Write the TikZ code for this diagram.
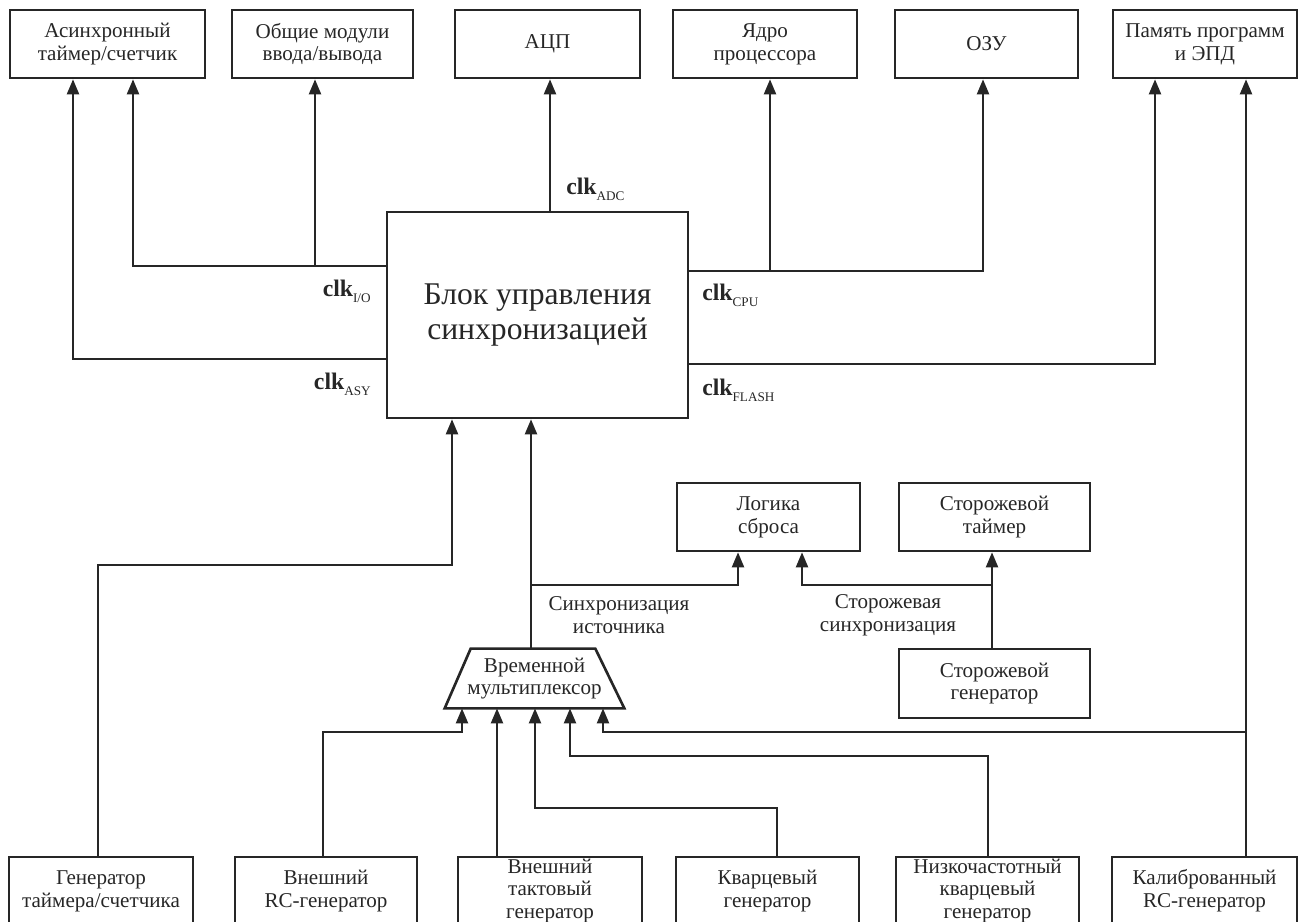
\documentclass[tikz,border=0pt]{standalone}
\usepackage{fontspec}
\setmainfont{Liberation Serif}
\usepackage{tikz}
\usetikzlibrary{arrows.meta}
\newcommand{\clksig}[1]{\textbf{clk}\raisebox{-0.55ex}{\fontsize{7.5}{8}\selectfont #1}}

\begin{document}
\begin{tikzpicture}[x=0.02cm, y=-0.02cm,
    every node/.style={font=\fontsize{12}{13}\selectfont, text=black!85},
    blk/.style={draw=black!85, line width=1.5pt, align=center, inner sep=0pt, minimum height=1.36cm},
    arr/.style={draw=black!85, line width=1.25pt, -{Triangle[length=0.3cm,width=0.24cm]}},
    clklbl/.style={inner sep=0pt, font=\fontsize{13.5}{14}\selectfont},
    lbl/.style={align=center, inner sep=0pt}]
  \useasboundingbox (0,0) rectangle (1300,921);
  \clip (0,0) rectangle (1300,921);
  % consumers
  \node[blk, minimum width=3.9cm]  (async) at (107.5,44) {Асинхронный\\таймер/счетчик};
  \node[blk, minimum width=3.62cm] (io)    at (322.5,44) {Общие модули\\ввода/вывода};
  \node[blk, minimum width=3.7cm]  (adc)   at (547.5,44) {АЦП};
  \node[blk, minimum width=3.68cm] (cpu)   at (765,44)   {Ядро\\процессора};
  \node[blk, minimum width=3.66cm] (ram)   at (986.5,44) {ОЗУ};
  \node[blk, minimum width=3.68cm] (flash) at (1205,44)  {Память программ\\и ЭПД};
  % control unit
  \node[blk, minimum width=6.02cm, minimum height=4.12cm,
        font=\fontsize{18}{20}\selectfont] (ctrl) at (537.5,315) {Блок управления\\синхронизацией};
  \node[blk, minimum width=3.66cm] (reset) at (768.5,517) {Логика\\сброса};
  \node[blk, minimum width=3.82cm] (wdt)   at (994.5,517) {Сторожевой\\таймер};
  \node[blk, minimum width=3.82cm, minimum height=1.38cm] (wdgen) at (994.5,683.5) {Сторожевой\\генератор};
  % multiplexer
  \node[lbl, minimum width=3.58cm, minimum height=1.18cm] (mux) at (534.5,678.5) {Временной\\мультиплексор};
  \draw[draw=black!85, line width=1.5pt] (mux.south west) -- (mux.south east)
    -- ([xshift=-0.58cm]mux.north east) -- ([xshift=0.52cm]mux.north west) -- cycle;
  % sources
  \node[blk, minimum width=3.68cm] (tgen)   at (101,891)    {Генератор\\таймера/счетчика};
  \node[blk, minimum width=3.64cm] (extrc)  at (326,891)    {Внешний\\RC-генератор};
  \node[blk, minimum width=3.68cm] (extclk) at (550,891)    {Внешний\\тактовый\\генератор};
  \node[blk, minimum width=3.66cm] (xtal)   at (767.5,891)  {Кварцевый\\генератор};
  \node[blk, minimum width=3.66cm] (lfx)    at (987.5,891)  {Низкочастотный\\кварцевый\\генератор};
  \node[blk, minimum width=3.7cm]  (calib)  at (1204.5,891) {Калиброванный\\RC-генератор};

  % clock outputs
  \coordinate (adcA) at (550,0);
  \coordinate (ioA) at (133,266);
  \coordinate (ioB) at (315,266);
  \coordinate (asyA) at (73,359);
  \coordinate (cpuA) at (770,271);
  \coordinate (ramA) at (983,271);
  \coordinate (flA) at (1155,364);
  \coordinate (calA) at (1246,732);
  \draw[arr] (ctrl.north -| adcA) -- (adc.south -| adcA);
  \draw[arr] (ctrl.west |- ioB) -| (async.south -| ioA);
  \draw[arr] (ioB) -- (io.south -| ioB);
  \draw[arr] (ctrl.west |- asyA) -| (async.south -| asyA);
  \draw[arr] (ctrl.east |- ramA) -| (ram.south -| ramA);
  \draw[arr] (cpuA) -- (cpu.south -| cpuA);
  \draw[arr] (ctrl.east |- flA) -| (flash.south -| flA);
  \draw[arr] (calib.north -| calA) -- (flash.south -| calA);

  \node[clklbl, anchor=west] (lbladc) at (566,189) {\clksig{ADC}};
  \node[clklbl, anchor=east] (lblio)  at (371,291) {\clksig{I/O}};
  \node[clklbl, anchor=east] (lblasy) at (371,384) {\clksig{ASY}};
  \node[clklbl, anchor=west] (lblcpu) at (702,295) {\clksig{CPU}};
  \node[clklbl, anchor=west] (lblfl)  at (702,390) {\clksig{FLASH}};

  % timer oscillator
  \coordinate (tgA) at (98,565);
  \coordinate (tgB) at (452,565);
  \draw[arr] (tgen.north -| tgA) -- (tgA) -- (tgB) -- (ctrl.south -| tgB);
  % source clock
  \coordinate (srcA) at (531,585);
  \coordinate (rsA) at (738,585);
  \draw[arr] (mux.north -| srcA) -- (ctrl.south -| srcA);
  \draw[arr] (srcA) -| (reset.south -| rsA);
  \node[lbl] (srclbl) at (619,615) {Синхронизация\\источника};
  % watchdog
  \coordinate (wdA) at (992,585);
  \coordinate (rsB) at (802,585);
  \draw[arr] (wdgen.north -| wdA) -- (wdt.south -| wdA);
  \draw[arr] (wdA) -| (reset.south -| rsB);
  \node[lbl] (wdlbl) at (888,615) {Сторожевая\\синхронизация};

  % multiplexer inputs
  \coordinate (m1) at (462,732);
  \coordinate (e1) at (323,732);
  \coordinate (m2) at (497,780);
  \coordinate (m3) at (535,808);
  \coordinate (e3) at (777,808);
  \coordinate (m4) at (570,756);
  \coordinate (e4) at (988,756);
  \coordinate (m5) at (603,732);
  \draw[arr] (extrc.north -| e1) -- (e1) -- (m1) -- (mux.south -| m1);
  \draw[arr] (extclk.north -| m2) -- (mux.south -| m2);
  \draw[arr] (xtal.north -| e3) -- (e3) -- (m3) -- (mux.south -| m3);
  \draw[arr] (lfx.north -| e4) -- (e4) -- (m4) -- (mux.south -| m4);
  \draw[arr] (calA) -- (m5) -- (mux.south -| m5);
\end{tikzpicture}
\end{document}
